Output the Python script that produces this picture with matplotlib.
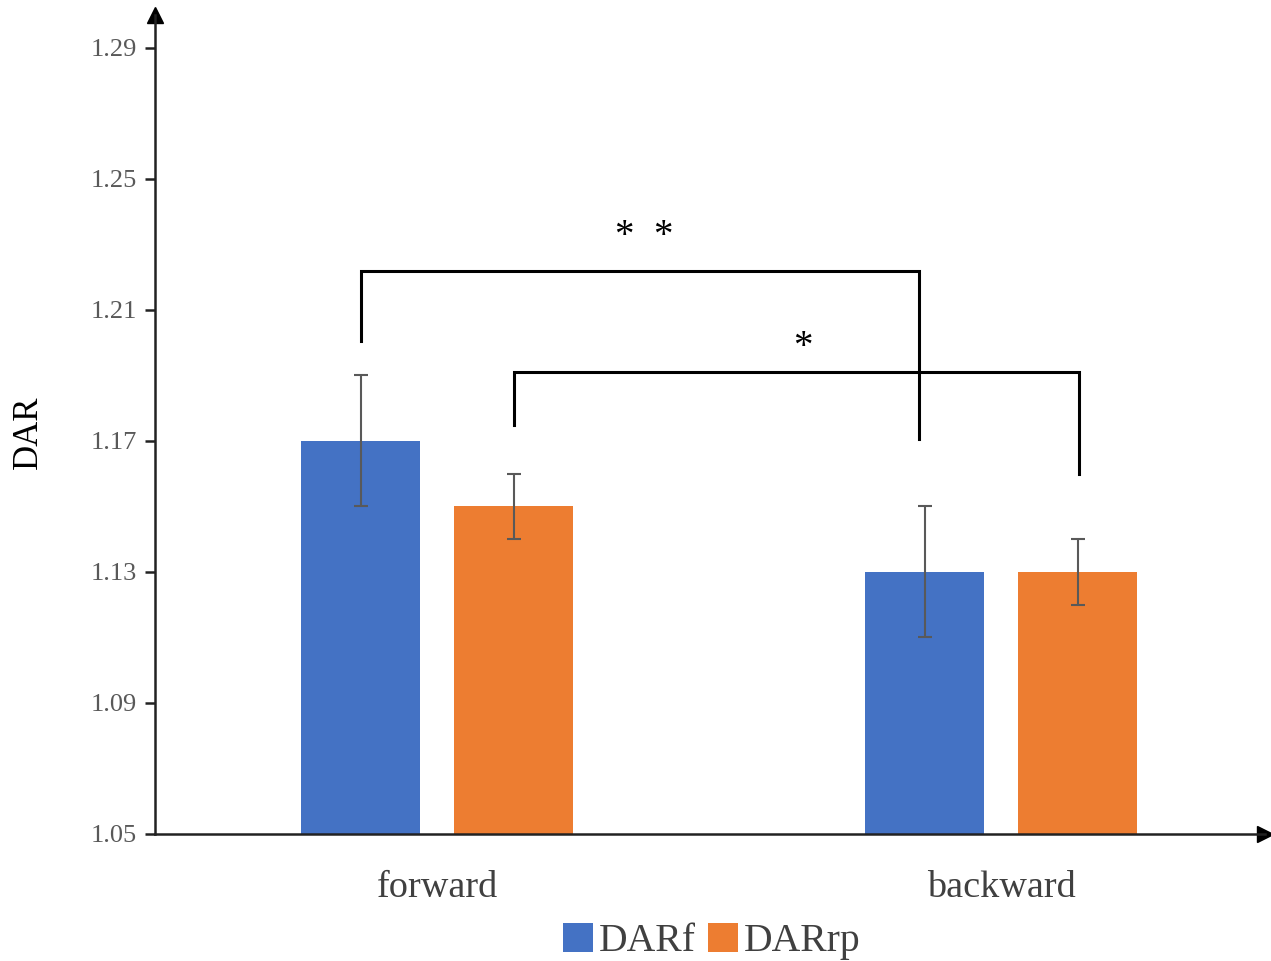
import matplotlib.pyplot as plt
import numpy as np

# data
categories = ['forward', 'backward']
series = ['DARf', 'DARrp']
darf = [1.17, 1.13]
darrp = [1.15, 1.13]
darf_err = [0.02, 0.02]
darrp_err = [0.01, 0.01]
yticks = [1.05, 1.09, 1.13, 1.17, 1.21, 1.25, 1.29]

blue = '#4472C4'
orange = '#ED7D31'
serif = ['Liberation Serif', 'DejaVu Serif']

fig = plt.figure(figsize=(12.71, 9.61), dpi=100)
ax = fig.add_axes([0.122, 0.1322, 0.873, 0.852])

x = np.arange(len(categories))
w = 0.211
off = 0.1356

ax.bar(x - off, darf, w, bottom=0, color=blue, label=series[0], zorder=2)
ax.bar(x + off, darrp, w, bottom=0, color=orange, label=series[1], zorder=2)
ax.errorbar(x - off, darf, yerr=darf_err, fmt='none', ecolor='#595959',
            elinewidth=1.5, capsize=5, capthick=1.5, zorder=3)
ax.errorbar(x + off, darrp, yerr=darrp_err, fmt='none', ecolor='#595959',
            elinewidth=1.5, capsize=5, capthick=1.5, zorder=3)

ax.set_xlim(-0.5, 1.467)
ax.set_ylim(1.05, 1.30)

# significance brackets
def bracket(x1, x2, y, y1, y2, text, tx, ty):
    ax.plot([x1, x1, x2, x2], [y1, y, y, y2], color='black', lw=2.2,
            zorder=4, solid_joinstyle='miter')
    ax.text(tx, ty, text, ha='center', va='center',
            fontsize=28, family=serif, color='black')

bracket(x[0] - off, x[1] - off - 0.01, 1.222, 1.2005, 1.1705, '*  *',
        0.367, 1.2325)
bracket(x[0] + off, x[1] + off + 0.003, 1.191, 1.175, 1.160, '*',
        0.648, 1.1985)

# axes with arrows
for s in ['top', 'right']:
    ax.spines[s].set_visible(False)
ax.spines['left'].set_linewidth(1.8)
ax.spines['bottom'].set_linewidth(1.8)
ax.spines['left'].set_color('#222222')
ax.spines['bottom'].set_color('#222222')
ax.plot(0, 1, '^', color='black', markersize=11, transform=ax.transAxes,
        clip_on=False)
ax.plot(1, 0, '>', color='black', markersize=11, transform=ax.transAxes,
        clip_on=False)

ax.set_yticks(yticks)
ax.set_yticklabels([f'{t:.2f}' for t in yticks], family=serif,
                   fontsize=19, color='#595959')
ax.tick_params(axis='y', direction='out', length=7, width=1.8,
               color='#222222', pad=6)
ax.set_xticks(x)
ax.set_xticklabels(categories, family=serif, fontsize=27.5, color='#404040')
ax.tick_params(axis='x', length=0, pad=26)

fig.text(0.022, 0.5505, 'DAR', rotation=90, ha='center', va='center',
         family=serif, fontsize=25, color='black')

fig.legend(loc='lower center', bbox_to_anchor=(0.56, -0.036), ncol=2,
           frameon=False, prop={'family': serif, 'size': 28.5},
           handlelength=0.75, handleheight=0.75, handletextpad=0.15,
           columnspacing=0.3, labelcolor='#404040')

fig.savefig('out.png', dpi=100, facecolor='white')
